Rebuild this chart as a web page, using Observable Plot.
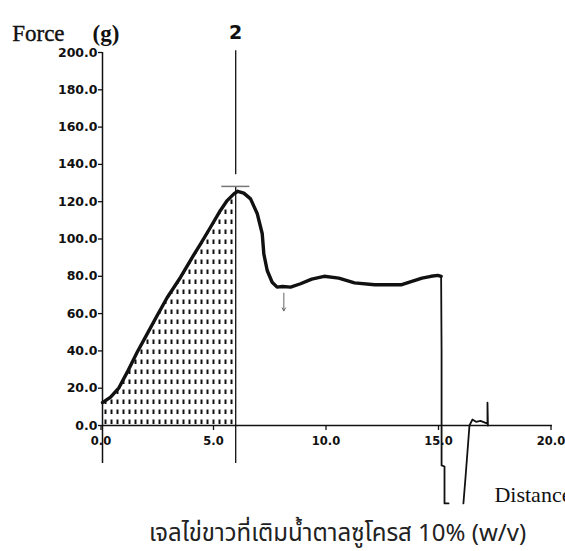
<!DOCTYPE html>
<html><head><meta charset="utf-8">
<script src="https://cdn.jsdelivr.net/npm/d3@7"></script>
<script src="https://cdn.jsdelivr.net/npm/@observablehq/plot@0.6"></script>
<style>
html,body{margin:0;padding:0;background:#fff;overflow:hidden;}
body{position:relative;width:565px;height:551px;}
#caption{position:absolute;left:110px;top:518px;width:455px;font-family:"Noto Sans Thai","Noto Sans","DejaVu Sans",sans-serif;font-size:24px;line-height:32px;height:32px;text-align:center;color:#222;white-space:nowrap;}
</style></head><body>
<div id="chart"></div>
<div id="caption">เจลไข่ขาวที่เติมน้ำตาลซูโครส 10% (w/v)</div>
<script>
// Force (g) vs distance readings
const curveX = [0.0,0.36,0.73,1.1,1.54,1.98,2.43,2.87,3.47,3.99,4.36,4.8,5.24,5.54,5.84,6.01,6.28,6.58,6.88,7.1,7.17,7.32,7.54,7.76,8.0,8.36,8.8,9.3,9.85,10.5,11.2,12.1,13.3,14.2,14.6,14.9,15.05];
const curveY = [12.3,15.2,20.2,28.6,39.3,49,59,68.5,79.5,90.2,97.4,106.3,115.3,120.6,124.2,125.6,124.6,121.5,113.5,102.8,92,83.1,76.8,74.2,74.5,74.2,76,78.5,80,79,76.5,75.5,75.5,79,80,80.5,80];
const tailX = [15.05,15.07,15.07,15.2,15.2,15.38,15.7,16.04,16.13,16.31,16.44,16.6,16.8,17.0,17.11,17.11,17.13];
const tailY = [80,40,-21.4,-22,-41.8,-41.8,NaN,-41.8,-28.4,0,3.2,2,2.5,1.5,1,12.3,0];
const yTicks = [0,20,40,60,80,100,120,140,160,180,200];
const xTicks = [0,5,10,15,20];
const markerX = 5.92, markerLabel = "2";
const markerTopY = 201, markerGapY = 134.5, markerCapY = 128.2, markerBottomY = -20.4;
const capX1 = 5.3, capX2 = 6.55;
const shadeEndY = 124.9;
const axisExtendY = -20.4;
const arrowSeg = {x: 8.06, y1: 71, y2: 61.5};
const distLabel = {x: 17.42, y: -37.5, t: "Distance"};

const curve = curveX.map((x, i) => ({x, y: curveY[i]}));
const tail = tailX.map((x, i) => ({x, y: tailY[i]}));
const shade = curve.filter(d => d.x < markerX).concat([{x: markerX, y: shadeEndY}]);

const chart = Plot.plot({
  width: 565, height: 515,
  marginLeft: 102, marginRight: 13, marginTop: 52, marginBottom: 90,
  style: {background: "#fff", fontFamily: "DejaVu Sans, sans-serif", color: "#111", display: "block"},
  x: {domain: [0, 20], axis: null},
  y: {domain: [0, 200], axis: null},
  marks: [
    Plot.areaY(shade, {x: "x", y: "y", fill: "url(#dotfill)"}),
    Plot.ruleX([0], {y1: axisExtendY, y2: 200, stroke: "#111", strokeWidth: 1.5}),
    Plot.ruleY([0], {x1: 0, x2: 20, stroke: "#111", strokeWidth: 1.5}),
    Plot.axisY(yTicks, {label: null, tickSize: 4, tickPadding: 1, tickFormat: d => d.toFixed(1), fontSize: 12.5, fontWeight: "bold", strokeWidth: 1.3}),
    Plot.axisX(xTicks, {label: null, tickSize: 5, tickPadding: 6, tickFormat: d => d.toFixed(1), fontSize: 11.5, fontWeight: "bold", strokeWidth: 1.3, dx: -1.5}),
    Plot.ruleX([markerX], {y1: markerBottomY, y2: markerCapY, stroke: "#111", strokeWidth: 1.3}),
    Plot.ruleX([markerX], {y1: markerGapY, y2: markerTopY, stroke: "#111", strokeWidth: 1.3}),
    Plot.ruleY([markerCapY], {x1: capX1, x2: capX2, stroke: "#777", strokeWidth: 1.5}),
    Plot.line(curve, {x: "x", y: "y", stroke: "#111", strokeWidth: 3.4}),
    Plot.line(tail, {x: "x", y: "y", stroke: "#111", strokeWidth: 1.8}),
    Plot.arrow([arrowSeg], {x: "x", y1: "y1", y2: "y2", stroke: "#666", strokeWidth: 1, headLength: 5}),
    Plot.text([markerLabel], {x: [markerX], frameAnchor: "top", dy: -27, fontSize: 19, fontWeight: "bold", fill: "#111"}),
    Plot.text(["Force"], {frameAnchor: "top-left", dx: -90.3, dy: -27.7, textAnchor: "start", fontFamily: "Liberation Serif, serif", fontSize: 23, fill: "#111", stroke: "#111", strokeWidth: 0.4}),
    Plot.text(["(g)"], {frameAnchor: "top-left", dx: -10, dy: -27.7, textAnchor: "start", fontFamily: "Liberation Serif, serif", fontSize: 23, fontWeight: "bold", fill: "#111"}),
    Plot.text([distLabel], {x: "x", y: "y", text: "t", textAnchor: "start", fontFamily: "Liberation Serif, serif", fontSize: 22, fill: "#111"})
  ]
});

// dotted hatch pattern for the shaded work area
const ns = "http://www.w3.org/2000/svg";
const defs = document.createElementNS(ns, "defs");
const pat = document.createElementNS(ns, "pattern");
pat.setAttribute("id", "dotfill");
pat.setAttribute("patternUnits", "userSpaceOnUse");
pat.setAttribute("x", 102); pat.setAttribute("y", 425);
pat.setAttribute("width", 6); pat.setAttribute("height", 10);
const r = document.createElementNS(ns, "rect");
r.setAttribute("x", 2.5); r.setAttribute("y", 4.5);
r.setAttribute("width", 2); r.setAttribute("height", 4.5);
r.setAttribute("fill", "#111");
pat.appendChild(r); defs.appendChild(pat);
chart.insertBefore(defs, chart.firstChild);
document.getElementById("chart").appendChild(chart);
</script>
</body></html>
